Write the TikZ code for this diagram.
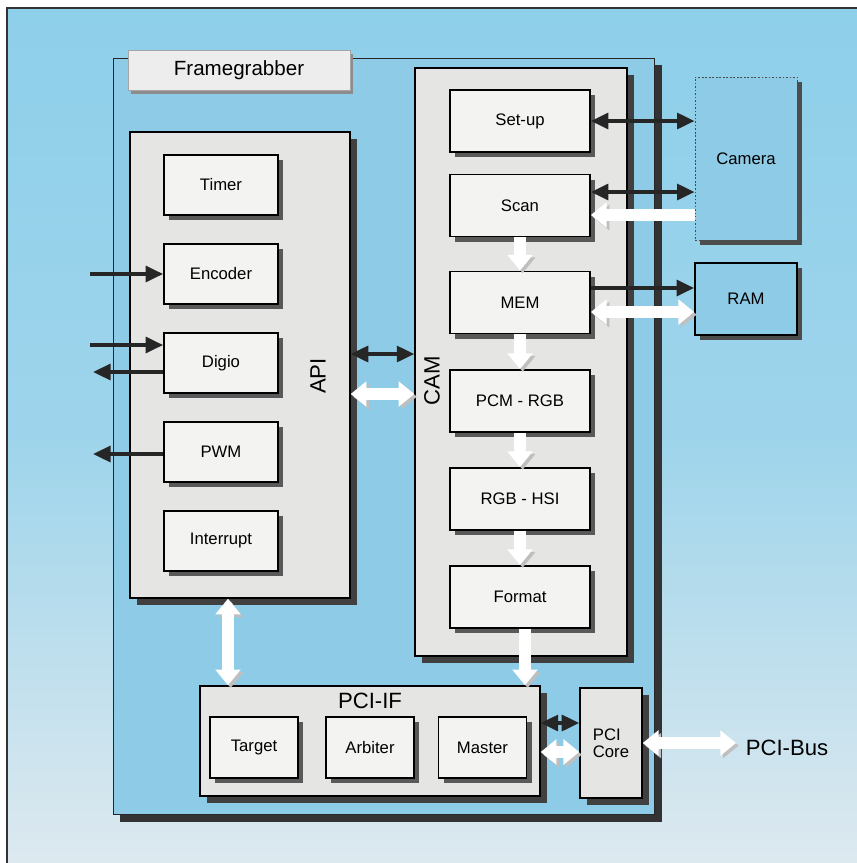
\documentclass[tikz,border=0pt]{standalone}
\usepackage{fontspec}
\setmainfont{Liberation Sans}
\usetikzlibrary{arrows.meta,shadows,positioning}

\definecolor{skyblue}{HTML}{8ECFEA}
\definecolor{paleblue}{HTML}{DDE9EF}
\definecolor{boxblue}{HTML}{8DCBE6}
\definecolor{panelgray}{HTML}{E5E5E3}
\definecolor{unitgray}{HTML}{F3F3F1}

\begin{document}
\begin{tikzpicture}[x=0.02cm, y=-0.02cm, node distance={17.8mm},
    unit/.style = {draw, line width=1pt, fill=unitgray, font=\fontsize{9.5}{9}\selectfont,
      drop shadow={shadow xshift=3pt, shadow yshift=-3pt, fill=black!65, opacity=1}},
    apiunit/.style = {unit, minimum width=22.8mm, minimum height=12mm},
    camunit/.style = {unit, minimum width=28mm, minimum height=12.4mm},
    pciunit/.style = {unit, minimum width=17.6mm, minimum height=12.2mm},
    panel/.style = {draw, line width=0.8pt, fill=panelgray,
      drop shadow={shadow xshift=4pt, shadow yshift=-4pt, fill=black!75, opacity=1}},
    ext/.style = {fill=boxblue, minimum width=20.4mm, font=\fontsize{9.5}{9}\selectfont,
      drop shadow={shadow xshift=3pt, shadow yshift=-3pt, fill=black!70, opacity=1}},
    header/.style = {font=\fontsize{12.6}{14}\selectfont},
    link/.style = {line width=2.1pt, draw=black!85, >={Triangle[length=10pt,width=9pt]}},
    bus/.style = {line width=6.8pt, draw=white, >={Triangle[length=9pt,width=14pt]},
      preaction={draw=black!25, transform canvas={shift={(1.5pt,-1.5pt)}}}}]

    \useasboundingbox (0,0) rectangle (857,863);
    % background
    \shade[top color=skyblue, bottom color=paleblue, middle color=skyblue!80!paleblue] (7,8) rectangle (857,863);
    \draw[black!80, line width=0.6pt] (7,863) -- (7,8) -- (857,8);

    % board
    \node[draw=black!85, line width=0.6pt, fill=boxblue, minimum width=108.4mm, minimum height=151.4mm,
        drop shadow={shadow xshift=4pt, shadow yshift=-4pt, fill=black!80, opacity=1}] (board) at (384,436.5) {};
    \node[draw=black!35, fill=black!7, minimum width=44.4mm, minimum height=8mm, font=\fontsize{11.7}{13}\selectfont,
        drop shadow={shadow xshift=1.5pt, shadow yshift=-2pt, fill=black!45, opacity=1}] (title) at (239,70) {Framegrabber};

    % API
    \node[panel, minimum width=44mm, minimum height=93.2mm] (api) at (240,365) {};
    \node[header, rotate=90] (apilabel) at (318,376) {API};
    \node[apiunit] (timer) at (221,185) {Timer};
    \node[apiunit] (encoder) [below of=timer] {Encoder};
    \node[apiunit] (digio) [below of=encoder] {Digio};
    \node[apiunit] (pwm) [below of=digio] {PWM};
    \node[apiunit] (interrupt) [below of=pwm] {Interrupt};

    % CAM
    \node[panel, minimum width=42.4mm, minimum height=117.6mm] (cam) at (521,362) {};
    \node[header, rotate=90] (camlabel) at (432,381) {CAM};
    \node[camunit] (setup) at (520,121) {Set-up};
    \node[camunit] (scan) at (520,205.5) {Scan};
    \node[camunit] (mem) at (520,302.5) {MEM};
    \node[camunit] (pcmrgb) at (520,401) {PCM - RGB};
    \node[camunit] (rgbhsi) at (520,499) {RGB - HSI};
    \node[camunit] (format) at (520,597) {Format};

    % camera and memory
    \node[ext, draw=black!70, line width=0.5pt, dash pattern=on 1pt off 1pt, minimum height=32.6mm] (camera) at (746,158.5) {Camera};
    \node[ext, draw, line width=1pt, minimum height=14.4mm] (ram) at (746,299) {RAM};

    % PCI
    \node[panel, minimum width=68mm, minimum height=22mm] (pciif) at (370,741) {};
    \node[header, below=0.3mm of pciif.north] (pcilabel) {PCI-IF};
    \node[pciunit] (target) at (254,747.5) {Target};
    \node[pciunit] (arbiter) at (370,747.5) {Arbiter};
    \node[pciunit] (master) at (482.5,747.5) {Master};
    \node[panel, minimum width=12.4mm, minimum height=22mm, align=left, font=\fontsize{9.5}{9.5}\selectfont] (core) at (611,743) {PCI\\Core};
    \node[font=\fontsize{12.6}{14}\selectfont] (pcibus) at (787,748) {PCI-Bus};

    \coordinate (encin) at (90,274);
    \coordinate (digin) at (90,345);
    \coordinate (digout) at (93,372);
    \coordinate (pwmout) at (93,454);

    % signals
    \draw[link,->] (encin) -- (encoder);
    \draw[link,->] (digin) -- (digin -| digio.west);
    \draw[link,->] (digout -| digio.west) -- (digout);
    \draw[link,->] (pwmout -| pwm.west) -- (pwmout);
    \draw[link,<->] (setup.east) -- (setup.east -| camera.west);
    \draw[link,<->] ([yshift=0.27cm]scan.east) -- ([yshift=0.27cm]scan.east -| camera.west);
    \draw[link,->] ([yshift=0.29cm]mem.east) -- ([yshift=0.29cm]mem.east -| ram.west);
    \draw[link,<->] ([yshift=0.22cm]api.east) -- ([yshift=0.22cm]api.east -| cam.west);
    \draw[link,<->] ([yshift=0.36cm]pciif.east) -- ([yshift=0.36cm]pciif.east -| core.west);

    % data paths
    \draw[bus,->] ([yshift=-0.19cm]scan.east -| camera.west) -- ([yshift=-0.19cm]scan.east);
    \draw[bus,<->] ([yshift=-0.19cm]mem.east) -- ([yshift=-0.19cm]mem.east -| ram.west);
    \draw[bus,<->] ([yshift=-0.58cm]api.east) -- ([yshift=-0.58cm]api.east -| cam.west);
    \draw[bus,->] (scan) -- (mem);
    \draw[bus,->] (mem) -- (pcmrgb);
    \draw[bus,->] (pcmrgb) -- (rgbhsi);
    \draw[bus,->] (rgbhsi) -- (format);
    \draw[bus,->] ([xshift=0.1cm]format.south) -- ([xshift=0.1cm]format.south |- pciif.north);
    \draw[bus,<->] ([xshift=-0.24cm]api.south) -- ([xshift=-0.24cm]api.south |- pciif.north);
    \draw[bus,<->] ([yshift=-0.22cm]pciif.east) -- ([yshift=-0.22cm]pciif.east -| core.west);
    \draw[bus,<->, shorten >=2pt] (core.east) -- (core.east -| pcibus.west);
\end{tikzpicture}
\end{document}
